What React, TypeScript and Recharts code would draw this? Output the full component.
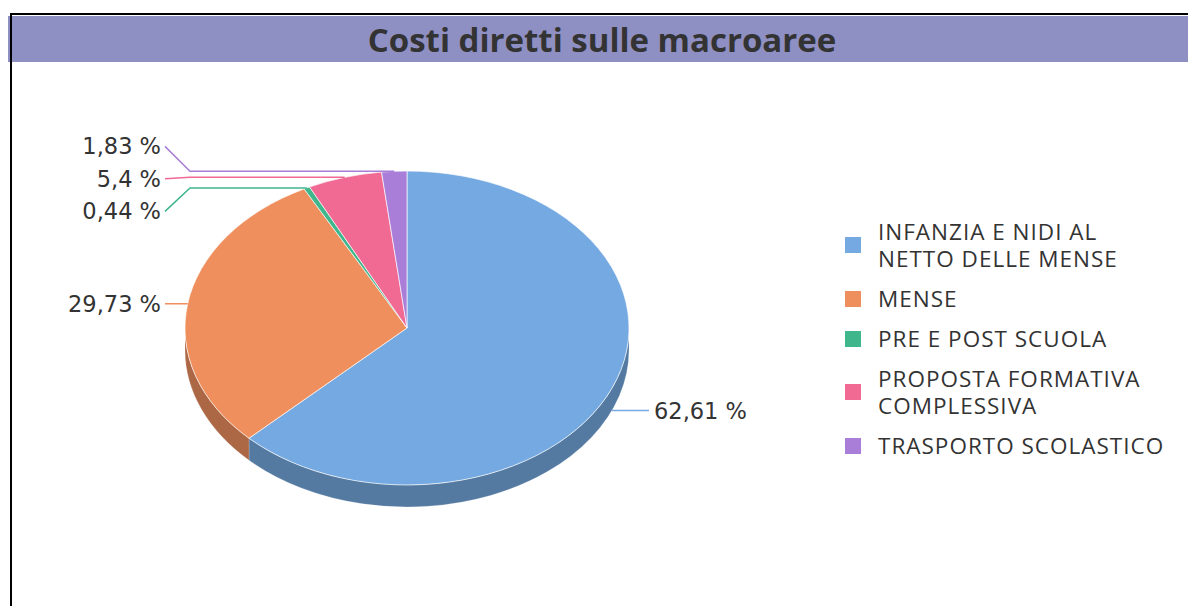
import { PieChart, Pie, Legend } from 'recharts';

// macro-area names and their share of direct costs (%)
const categories = [
  'INFANZIA E NIDI AL NETTO DELLE MENSE',
  'MENSE',
  'PRE E POST SCUOLA',
  'PROPOSTA FORMATIVA COMPLESSIVA',
  'TRASPORTO SCOLASTICO',
];
const shares = [62.61, 29.73, 0.44, 5.4, 1.83];
const sliceColors = ['#75a9e1', '#ef8f5e', '#3fb68b', '#f06a94', '#a87ed8'];

const W = 1188;
const H = 606;
const CX = 407;
const CY = 328;
const RX = 222;
const TILT = 0.707; // vertical squash of the tilted pie
const DEPTH = 22;
const START = 90;
const END = -270;
const RAD = Math.PI / 180;
const LABEL_GAP = 32.5;

function shade(hex: string, k: number) {
  const n = parseInt(hex.slice(1), 16);
  const r = Math.round(((n >> 16) & 255) * k);
  const g = Math.round(((n >> 8) & 255) * k);
  const b = Math.round((n & 255) * k);
  return `rgb(${r},${g},${b})`;
}

const data = categories.map((name, i) => ({
  name,
  value: shares[i],
  fill: sliceColors[i],
  wall: shade(sliceColors[i], 0.72),
}));

function pt(cx: number, cy: number, r: number, a: number, dy = 0): [number, number] {
  return [cx + r * Math.cos(-a * RAD), cy + r * TILT * Math.sin(-a * RAD) + dy];
}

function anchorOf(cx: number, cy: number, r: number, mid: number) {
  const [x, y] = pt(cx, cy, r, mid);
  const front = Math.sin(-mid * RAD) > 0;
  return { x, y: y + (front ? DEPTH : 0), left: Math.cos(mid * RAD) < 0 };
}

// pre-layout of label rows so stacked labels don't collide
const labelYs: number[] = (() => {
  const total = shares.reduce((s, v) => s + v, 0);
  let acc = START;
  const items = shares.map((v, i) => {
    const span = (v / total) * 360;
    const mid = acc - span / 2;
    acc -= span;
    const a = anchorOf(CX, CY, RX, mid);
    return { i, y: a.y, left: a.left };
  });
  const out: number[] = [];
  [true, false].forEach((side) => {
    const list = items.filter((it) => it.left === side).sort((a, b) => a.y - b.y);
    let groups = list.map((it) => ({ members: [it], top: it.y }));
    let merged = true;
    while (merged) {
      merged = false;
      groups.forEach((g) => {
        const mean = g.members.reduce((s, m) => s + m.y, 0) / g.members.length;
        g.top = mean - ((g.members.length - 1) * LABEL_GAP) / 2;
      });
      for (let k = 1; k < groups.length; k++) {
        const prev = groups[k - 1];
        if (prev.top + prev.members.length * LABEL_GAP > groups[k].top) {
          prev.members = prev.members.concat(groups[k].members);
          groups.splice(k, 1);
          merged = true;
          break;
        }
      }
    }
    groups.forEach((g) => g.members.forEach((m, j) => (out[m.i] = g.top + j * LABEL_GAP)));
  });
  return out;
})();

function TopSlice(props: any) {
  const { cx, cy, outerRadius: r, startAngle, endAngle, fill } = props;
  const [x1, y1] = pt(cx, cy, r, startAngle);
  const [x2, y2] = pt(cx, cy, r, endAngle);
  const large = Math.abs(startAngle - endAngle) > 180 ? 1 : 0;
  const sweep = startAngle > endAngle ? 1 : 0;
  const d = `M${cx},${cy} L${x1},${y1} A${r},${r * TILT} 0 ${large} ${sweep} ${x2},${y2} Z`;
  return <path d={d} fill={fill} stroke="rgba(255,255,255,0.65)" strokeWidth={1} strokeLinejoin="round" />;
}

function WallSlice(props: any) {
  const { cx, cy, outerRadius: r, startAngle, endAngle } = props;
  const wall = props.wall ?? props.payload?.wall ?? props.fill;
  const hi = Math.max(startAngle, endAngle);
  const lo = Math.min(startAngle, endAngle);
  const paths: string[] = [];
  [-360, 0, 360].forEach((k) => {
    const a = Math.min(hi, k);
    const b = Math.max(lo, k - 180);
    if (a - b < 0.01) return;
    const p1 = pt(cx, cy, r, a);
    const p2 = pt(cx, cy, r, b);
    const p3 = pt(cx, cy, r, b, DEPTH);
    const p4 = pt(cx, cy, r, a, DEPTH);
    paths.push(
      `M${p1[0]},${p1[1]} A${r},${r * TILT} 0 0 1 ${p2[0]},${p2[1]} L${p3[0]},${p3[1]} A${r},${r * TILT} 0 0 0 ${p4[0]},${p4[1]} Z`
    );
  });
  return (
    <g>
      {paths.map((d, i) => (
        <path key={i} d={d} fill={wall} stroke="rgba(255,255,255,0.25)" strokeWidth={0.8} />
      ))}
    </g>
  );
}

function renderLabel(props: any) {
  const { index, midAngle } = props;
  const cx = props.cx ?? CX;
  const cy = props.cy ?? CY;
  const r = props.outerRadius ?? RX;
  const a = anchorOf(cx, cy, r, midAngle);
  const ly = labelYs[index];
  const color = sliceColors[index];
  const endX = a.left ? cx - r - 20 : cx + r + 20;
  const bendX = a.left ? Math.min(endX + 25, a.x) : Math.max(endX - 25, a.x);
  const txt = `${String(shares[index]).replace('.', ',')} %`;
  return (
    <g key={`lbl-${index}`}>
      <polyline
        points={`${a.x},${a.y} ${bendX},${a.y} ${endX},${ly}`}
        fill="none"
        stroke={color}
        strokeWidth={1.5}
      />
      <text
        x={a.left ? endX - 4 : endX + 5}
        y={ly}
        textAnchor={a.left ? 'end' : 'start'}
        dominantBaseline="central"
        fill="#333"
        fontSize={22.5}
        fontFamily="'DejaVu Sans', sans-serif"
      >
        {txt}
      </text>
    </g>
  );
}

function renderLegend({ payload }: any) {
  const items = (payload || []).filter((p: any) => p.type !== 'none');
  return (
    <ul style={{ listStyle: 'none', margin: 0, padding: 0 }}>
      {items.map((p: any, i: number) => (
        <li key={i} style={{ display: 'flex', alignItems: 'center', marginBottom: 13 }}>
          <span style={{ width: 16, height: 16, background: p.color, marginRight: 17, flexShrink: 0 }} />
          <span
            style={{
              width: 292,
              lineHeight: '27px',
              fontSize: 22.5,
              letterSpacing: 1,
              color: '#333',
              fontFamily: "'Open Sans', sans-serif",
            }}
          >
            {p.value}
          </span>
        </li>
      ))}
    </ul>
  );
}

export default function App() {
  return (
    <div style={{ position: 'absolute', left: 0, top: 0, width: W, height: H, background: '#fff', overflow: 'hidden' }}>
      {/* title bar */}
      <div
        style={{
          position: 'absolute',
          left: 8,
          top: 16,
          width: W - 8,
          height: 46,
          lineHeight: '46px',
          background: '#8e8fc3',
          textAlign: 'center',
          fontFamily: "'Open Sans', sans-serif",
          fontWeight: 700,
          fontSize: 33,
          color: '#333',
          paddingLeft: 8,
          paddingTop: 1,
          boxSizing: 'border-box',
        }}
      >
        Costi diretti sulle macroaree
      </div>
      <div style={{ position: 'absolute', left: 10, top: 13, width: W - 10, height: 2, background: '#000' }} />
      <div style={{ position: 'absolute', left: 10, top: 13, width: 2, height: H - 13, background: '#000' }} />

      <div style={{ position: 'absolute', left: 0, top: 0 }}>
        <PieChart width={W} height={H} margin={{ top: 0, right: 0, bottom: 0, left: 0 }}>
          <Pie
            data={data}
            dataKey="value"
            nameKey="name"
            cx={CX}
            cy={CY}
            outerRadius={RX}
            startAngle={START}
            endAngle={END}
            legendType="none"
            label={false}
            labelLine={false}
            shape={WallSlice}
            inactiveShape={WallSlice}
            activeShape={WallSlice}
            isAnimationActive={false}
          />
          <Pie
            data={data}
            dataKey="value"
            nameKey="name"
            cx={CX}
            cy={CY}
            outerRadius={RX}
            startAngle={START}
            endAngle={END}
            legendType="square"
            label={renderLabel}
            labelLine={false}
            shape={TopSlice}
            inactiveShape={TopSlice}
            activeShape={TopSlice}
            isAnimationActive={false}
          />
          <Legend
            layout="vertical"
            align="right"
            verticalAlign="middle"
            content={renderLegend}
            wrapperStyle={{ left: 845, top: 218, width: 340, right: 'auto', bottom: 'auto' }}
          />
        </PieChart>
      </div>
    </div>
  );
}
